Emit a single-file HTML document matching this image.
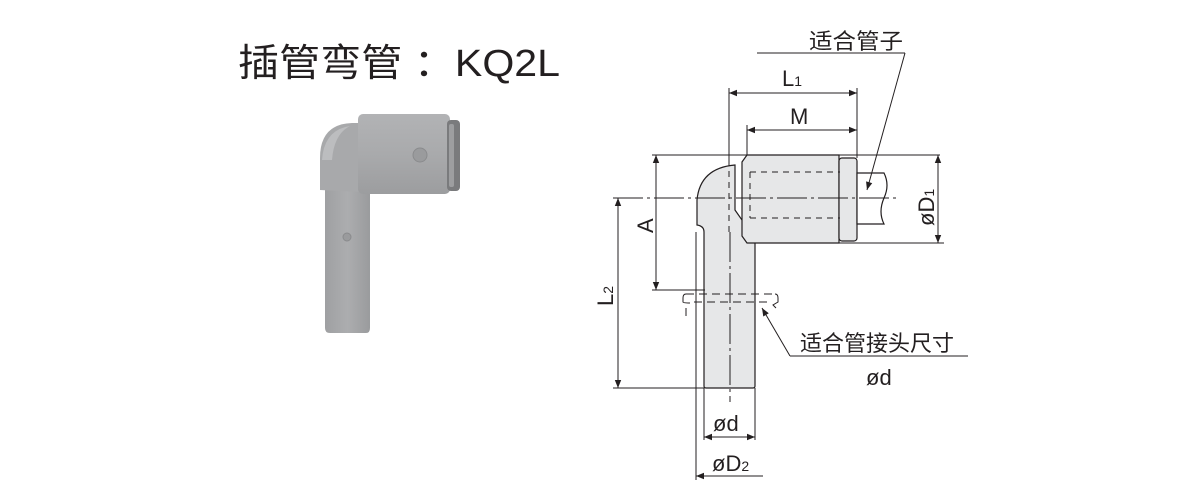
<!DOCTYPE html>
<html><head><meta charset="utf-8"><style>
html,body{margin:0;padding:0;background:#fff;width:1200px;height:500px;overflow:hidden}
svg{display:block}
text{font-family:"Liberation Sans","Noto Sans CJK SC",sans-serif;fill:#231f20}
</style></head><body>
<svg width="1200" height="500" viewBox="0 0 1200 500" xmlns="http://www.w3.org/2000/svg">
<defs>
<marker id="ar" viewBox="0 0 10 10" refX="10" refY="5" markerWidth="14" markerHeight="8" markerUnits="userSpaceOnUse" orient="auto-start-reverse">
<path d="M0,1 L10,5 L0,9 z" fill="#231f20"/></marker>
<linearGradient id="gs" x1="0" x2="1" y1="0" y2="0"><stop offset="0" stop-color="#9fa0a2"/><stop offset="0.5" stop-color="#acadaf"/><stop offset="1" stop-color="#9a9b9d"/></linearGradient>
<linearGradient id="gb" x1="0" x2="0" y1="0" y2="1"><stop offset="0" stop-color="#b2b3b5"/><stop offset="0.5" stop-color="#a9aaac"/><stop offset="1" stop-color="#9c9d9f"/></linearGradient>
</defs>
<text x="238" y="76" font-size="38" textLength="322" lengthAdjust="spacingAndGlyphs">插管弯管 ：KQ2L</text>

<g>
<path d="M325,185 L325,328 Q325,333 330,333 L366,333 Q370,333 370,328 L370,185 z" fill="url(#gs)"/>
<path d="M320,190 L320,158 Q320,124 352,123 L362,123 L362,192 z" fill="#a8a9ab"/>
<path d="M322,160 Q324,130 350,126 Q334,134 332,160 z" fill="#bcbdbf"/>
<rect x="358" y="114" width="92" height="80" rx="5" fill="url(#gb)"/>
<rect x="447" y="120" width="13" height="71" rx="4" fill="#7a7b7d"/>
<rect x="449" y="124" width="5" height="63" rx="2" fill="#9d9ea0"/>
<circle cx="420" cy="155" r="7" fill="#9a9b9d" stroke="#8a8b8d" stroke-width="1"/>
<circle cx="347" cy="237" r="4" fill="#9a9b9d" stroke="#8a8b8d" stroke-width="1"/>
</g>

<g fill="#e6e7e8" stroke="#231f20" stroke-width="1.2">
<path d="M704,232 L704,386 Q704,388 706,388 L753,388 Q755,388 755,386 L755,232 Q745,228 742,220 L735,210 L735,165 Q700,168 697,200 L697,225 Q704,226 704,232 z"/>
<path d="M747,155 L839,155 L839,243 L747,243 L742,236 L742,162 z"/>
<rect x="839" y="158" width="18" height="83" rx="3"/>
<path d="M857,173 L884,173 Q890,185 884,198 Q878,212 884,224 L857,224 z" fill="#fff"/>
</g>
<g stroke="#231f20" stroke-width="1" fill="none">
<path d="M750,172 L840,172 M750,218 L840,218 M750,172 L750,218" stroke-dasharray="6,5"/>
<path d="M729,160 L729,232" stroke-dasharray="6,5"/>
<path d="M686,294 L775,294 M694,302 L770,302" stroke-dasharray="8,5"/>
<path d="M686,294 Q683,294 683,298 L683,302 Q683,303 690,303 M775,294 Q778,294 778,298 L778,302 L773,305 L776,308 M686,308 L686,316"/>
<path d="M613,198 L900,198" stroke-dasharray="30,4,3,4"/>
<path d="M730,232 L730,402" stroke-dasharray="30,4,3,4"/>
<path d="M729,88 L729,160 M857,88 L857,158 M747,125 L747,155"/>
<path d="M652,155 L940,155 M839,243 L944,243"/>
<path d="M652,290 L705,290"/>
<path d="M613,388 L704,388"/>
<path d="M696,232 L696,480 M704,388 L704,440 M755,388 L755,440"/>
<path d="M729,93 L857,93" marker-start="url(#ar)" marker-end="url(#ar)"/>
<path d="M747,130 L857,130" marker-start="url(#ar)" marker-end="url(#ar)"/>
<path d="M656,155 L656,290" marker-start="url(#ar)" marker-end="url(#ar)"/>
<path d="M618,198 L618,388" marker-start="url(#ar)" marker-end="url(#ar)"/>
<path d="M938,155 L938,243" marker-start="url(#ar)" marker-end="url(#ar)"/>
<path d="M704,437 L755,437" marker-start="url(#ar)" marker-end="url(#ar)"/>
<path d="M763,476 L696,476" marker-end="url(#ar)"/>
<path d="M757,53 L905,53"/>
<path d="M905,53 L867,190" marker-end="url(#ar)"/>
<path d="M968,356 L790,356"/>
<path d="M790,356 L762,308" marker-end="url(#ar)"/>
</g>
<g font-size="22">
<text x="809" y="49" font-size="22" textLength="94" lengthAdjust="spacingAndGlyphs">适合管子</text>
<text x="782" y="86">L<tspan font-size="14">1</tspan></text>
<text x="790" y="124">M</text>
<text x="800" y="351" font-size="22" textLength="154" lengthAdjust="spacingAndGlyphs">适合管接头尺寸</text>
<text x="866" y="385">ød</text>
<text x="713" y="431">ød</text>
<text x="712" y="471">øD<tspan font-size="14">2</tspan></text>
<text transform="translate(653,233) rotate(-90)">A</text>
<text transform="translate(613,306) rotate(-90)">L<tspan font-size="14">2</tspan></text>
<text transform="translate(934,226) rotate(-90)">øD<tspan font-size="14">1</tspan></text>
</g>
</svg>
</body></html>
